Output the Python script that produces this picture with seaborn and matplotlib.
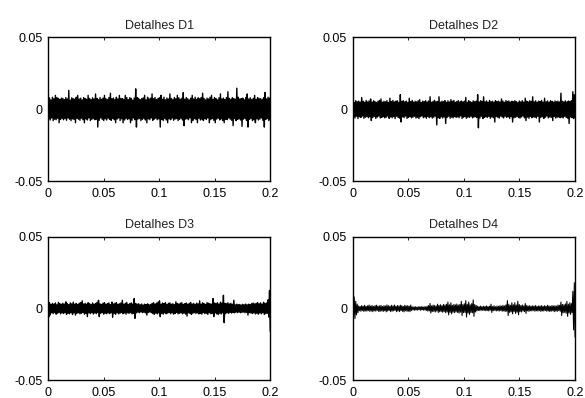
import numpy as np
import pandas as pd
import matplotlib
matplotlib.use("Agg")
import matplotlib.pyplot as plt
import seaborn as sns

# Detail coefficients, stored as upper / lower excursion per step (units of 1e-4)
UNIT = 1e-4
T_END = 0.2

titles = ["Detalhes D1", "Detalhes D2", "Detalhes D3", "Detalhes D4"]

d1_upper = [70, 78, 64, 82, 72, 95, 80, 74, 66, 76,
            74, 66, 80, 70, 130, 62, 78, 72, 68, 82,
            95, 70, 76, 64, 80, 72, 68, 95, 74, 66,
            78, 70, 105, 74, 64, 80, 68, 76, 95, 72,
            66, 80, 110, 72, 76, 64, 82, 70, 95, 74,
            72, 68, 95, 80, 66, 78, 74, 62, 76, 140,
            80, 74, 66, 72, 78, 95, 64, 82, 70, 76,
            105, 72, 80, 66, 74, 78, 95, 68, 82, 64,
            76, 70, 105, 74, 66, 80, 72, 95, 78, 68,
            74, 115, 68, 80, 72, 64, 76, 95, 70, 82,
            66, 78, 72, 80, 110, 74, 64, 76, 70, 82,
            95, 68, 80, 72, 64, 78, 105, 70, 76, 66,
            80, 120, 74, 66, 78, 72, 68, 145, 82, 70,
            72, 76, 64, 80, 105, 70, 78, 66, 74, 95,
            68, 80, 74, 72, 66, 78, 115, 70, 82, 76]
d1_lower = [-68, -76, -62, -80, -70, -74, -64, -95, -72, -66,
            -74, -66, -78, -62, -70, -80, -68, -72, -95, -64,
            -70, -78, -64, -74, -95, -68, -76, -62, -80, -72,
            -66, -74, -70, -125, -78, -62, -72, -80, -68, -76,
            -64, -72, -78, -66, -74, -95, -70, -62, -80, -68,
            -95, -76, -64, -72, -68, -95, -78, -62, -74, -125,
            -70, -66, -80, -72, -64, -76, -95, -68, -74, -62,
            -78, -70, -64, -74, -68, -125, -72, -80, -66, -76,
            -95, -68, -74, -62, -78, -70, -66, -80, -72, -64,
            -76, -115, -70, -68, -74, -62, -95, -78, -66, -72,
            -95, -64, -76, -70, -80, -68, -72, -62, -95, -74,
            -66, -78, -95, -70, -64, -76, -68, -80, -95, -72,
            -74, -62, -70, -78, -115, -66, -80, -72, -68, -76,
            -120, -70, -64, -78, -125, -72, -66, -80, -74, -95,
            -68, -76, -70, -62, -78, -125, -72, -66, -80, -74]

d2_upper = [52, 46, 58, 50, 55, 48, 80, 54, 47, 60,
            50, 56, 70, 48, 58, 52, 46, 55, 60, 70,
            48, 54, 50, 58, 46, 75, 52, 60, 49, 55,
            57, 47, 100, 53, 58, 49, 55, 46, 75, 52,
            60, 48, 54, 50, 57, 65, 46, 55, 52, 58,
            49, 56, 85, 47, 54, 60, 50, 53, 85, 48,
            55, 51, 58, 46, 57, 49, 65, 54, 60, 47,
            53, 58, 48, 56, 50, 55, 80, 47, 59, 52,
            46, 57, 52, 55, 100, 49, 58, 53, 85, 50,
            56, 48, 60, 51, 54, 47, 58, 52, 55, 49,
            70, 55, 47, 59, 52, 57, 48, 54, 50, 58,
            52, 46, 56, 50, 58, 48, 75, 55, 49, 57,
            54, 85, 50, 57, 47, 55, 52, 60, 48, 75,
            50, 56, 48, 58, 53, 47, 57, 51, 55, 49,
            110, 54, 50, 57, 48, 56, 52, 58, 120, 100]
d2_lower = [-55, -62, -50, -66, -53, -58, -48, -64, -57, -52,
            -60, -54, -80, -59, -51, -65, -56, -49, -62, -58,
            -53, -61, -57, -48, -64, -55, -60, -52, -66, -50,
            -58, -63, -90, -54, -60, -49, -65, -57, -52, -61,
            -56, -50, -62, -58, -66, -53, -48, -60, -55, -64,
            -51, -59, -54, -63, -57, -49, -110, -60, -65, -53,
            -62, -55, -100, -58, -50, -64, -56, -61, -52, -59,
            -54, -60, -48, -65, -57, -52, -63, -55, -58, -50,
            -61, -56, -53, -59, -130, -62, -50, -66, -57, -54,
            -58, -51, -64, -55, -60, -90, -52, -57, -63, -49,
            -56, -62, -50, -58, -54, -65, -53, -90, -60, -57,
            -52, -59, -63, -55, -48, -61, -80, -56, -64, -51,
            -60, -54, -57, -62, -50, -90, -58, -53, -65, -56,
            -49, -61, -55, -58, -80, -52, -63, -57, -54, -60,
            -56, -62, -50, -58, -64, -100, -55, -60, -66, -62]

d3_upper = [70, 40, 28, 35, 30, 38, 26, 42, 33, 29,
            36, 31, 46, 34, 27, 39, 32, 44, 30, 35,
            28, 37, 41, 53, 31, 36, 29, 40, 34, 27,
            38, 30, 35, 43, 57, 32, 28, 37, 41, 30,
            34, 39, 27, 45, 31, 36, 40, 29, 33, 38,
            57, 30, 36, 42, 28, 34, 39, 31, 69, 35,
            29, 33, 26, 31, 24, 30, 27, 32, 25, 28,
            35, 40, 31, 37, 44, 53, 30, 38, 34, 41,
            28, 36, 39, 30, 33, 27, 46, 35, 31, 37,
            40, 29, 34, 38, 30, 36, 42, 31, 35, 28,
            37, 32, 53, 30, 39, 34, 28, 41, 36, 33,
            30, 69, 38, 35, 40, 31, 44, 37, 92, 36,
            33, 40, 31, 36, 29, 57, 25, 30, 27, 28,
            24, 29, 26, 31, 25, 30, 27, 34, 38, 32,
            36, 41, 33, 39, 30, 43, 35, 38, 60, 126]
d3_lower = [-60, -45, -30, -36, -28, -40, -33, -27, -38, -31,
            -35, -29, -41, -33, -37, -28, -42, -31, -46, -34,
            -30, -38, -33, -27, -40, -35, -57, -31, -36, -29,
            -39, -32, -36, -28, -57, -34, -30, -40, -33, -37,
            -31, -36, -29, -62, -35, -41, -30, -38, -33, -28,
            -37, -32, -40, -30, -35, -29, -38, -34, -69, -31,
            -26, -30, -24, -29, -27, -31, -46, -28, -25, -30,
            -36, -42, -33, -38, -31, -57, -35, -40, -30, -37,
            -33, -29, -37, -31, -40, -35, -28, -38, -34, -30,
            -37, -32, -39, -53, -30, -36, -41, -33, -29, -35,
            -31, -38, -34, -40, -29, -36, -33, -42, -30, -37,
            -35, -57, -31, -38, -43, -33, -39, -30, -99, -36,
            -30, -34, -28, -32, -27, -31, -25, -29, -26, -30,
            -28, -25, -30, -27, -46, -29, -32, -35, -31, -38,
            -34, -40, -32, -37, -30, -42, -36, -33, -60, -160]

d4_upper = [90, 80, 50, 30, 18, 14, 20, 16, 22, 15,
            19, 24, 17, 21, 15, 20, 23, 16, 18, 22,
            14, 20, 17, 25, 19, 16, 22, 18, 24, 15,
            21, 17, 23, 19, 15, 22, 18, 20, 16, 24,
            12, 10, 13, 9, 12, 11, 14, 10, 13, 11,
            16, 20, 35, 18, 24, 21, 17, 30, 22, 26,
            20, 28, 24, 30, 45, 26, 40, 22, 29, 25,
            31, 24, 28, 50, 27, 33, 55, 30, 45, 26,
            34, 60, 28, 22, 16, 13, 17, 12, 15, 14,
            18, 13, 16, 30, 14, 19, 12, 17, 15, 20,
            16, 22, 18, 25, 55, 30, 22, 40, 26, 40,
            24, 50, 28, 20, 25, 18, 35, 22, 17, 20,
            15, 19, 16, 21, 14, 18, 17, 20, 15, 19,
            16, 22, 18, 15, 21, 17, 20, 16, 24, 22,
            45, 28, 26, 32, 50, 30, 40, 34, 120, 180]
d4_lower = [-80, -70, -45, -30, -16, -20, -14, -22, -17, -19,
            -15, -21, -18, -23, -16, -19, -14, -22, -20, -17,
            -21, -16, -24, -18, -15, -22, -19, -17, -14, -23,
            -18, -22, -15, -20, -24, -16, -21, -19, -23, -15,
            -10, -13, -11, -12, -9, -13, -10, -12, -11, -14,
            -19, -17, -32, -22, -20, -25, -18, -28, -24, -21,
            -27, -22, -30, -25, -45, -28, -38, -26, -30, -24,
            -28, -33, -26, -50, -30, -28, -60, -32, -42, -29,
            -30, -55, -25, -18, -14, -16, -12, -15, -13, -17,
            -14, -18, -12, -28, -16, -13, -18, -15, -19, -14,
            -20, -17, -22, -19, -50, -28, -24, -38, -22, -35,
            -26, -45, -22, -25, -18, -22, -35, -17, -21, -16,
            -18, -14, -20, -16, -19, -15, -21, -17, -18, -14,
            -20, -17, -22, -19, -16, -23, -18, -21, -15, -20,
            -50, -30, -28, -34, -55, -32, -42, -30, -150, -200]

series = [(d1_upper, d1_lower), (d2_upper, d2_lower), (d3_upper, d3_lower), (d4_upper, d4_lower)]

x_ticks = [0, 0.05, 0.1, 0.15, 0.2]
x_tick_labels = ["0", "0.05", "0.1", "0.15", "0.2"]
y_ticks = [-0.05, 0, 0.05]
y_tick_labels = ["-0.05", "0", "0.05"]

sns.set_theme(style="ticks")
plt.rcParams["font.family"] = ["Liberation Sans", "DejaVu Sans"]
plt.rcParams["font.size"] = 9

fig = plt.figure(figsize=(5.85, 3.98), dpi=100)
fig.patch.set_facecolor("white")

boxes = [
    (0.082, 0.545, 0.380, 0.362),
    (0.603, 0.545, 0.380, 0.362),
    (0.082, 0.045, 0.380, 0.360),
    (0.603, 0.045, 0.380, 0.360),
]
line_widths = [1.0, 1.0, 1.0, 0.75]

for box, title, (up, lo), lw in zip(boxes, titles, series, line_widths):
    ax = fig.add_axes(box)
    sig = np.empty(2 * len(up))
    sig[0::2] = np.asarray(up) * UNIT
    sig[1::2] = np.asarray(lo) * UNIT
    t = np.linspace(0, T_END, sig.size)
    df = pd.DataFrame({"t": t, "d": sig})
    sns.lineplot(data=df, x="t", y="d", ax=ax, color="black", linewidth=lw,
                 estimator=None, sort=False)
    ax.set_xlim(0, 0.2)
    ax.set_ylim(-0.05, 0.05)
    ax.set_xticks(x_ticks)
    ax.set_xticklabels(x_tick_labels)
    ax.set_yticks(y_ticks)
    ax.set_yticklabels(y_tick_labels)
    ax.set_xlabel("")
    ax.set_ylabel("")
    ax.set_title(title, fontsize=9, pad=6, color="#222222")
    ax.set_facecolor("white")
    ax.tick_params(direction="in", top=True, right=True, length=2.5, width=0.6,
                   labelsize=9, colors="black")
    ax.tick_params(axis="x", pad=5)
    ax.tick_params(axis="y", pad=4)
    for s in ax.spines.values():
        s.set_visible(True)
        s.set_color("black")
        s.set_linewidth(1.0)

fig.savefig("out.png", dpi=100, facecolor="white")
